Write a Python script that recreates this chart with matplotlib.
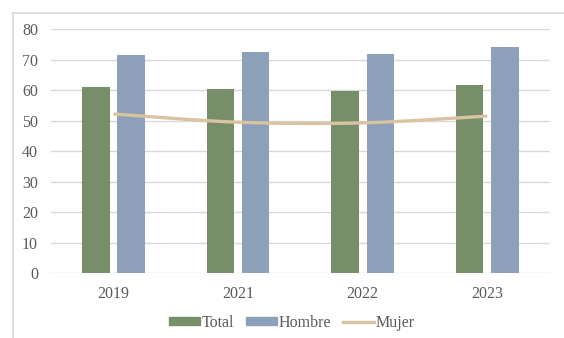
import matplotlib
matplotlib.use("Agg")
import matplotlib.pyplot as plt
import numpy as np
from matplotlib.path import Path
from matplotlib.patches import PathPatch, Patch
from matplotlib.lines import Line2D

categories = ["2019", "2021", "2022", "2023"]
total = [61.2, 60.3, 59.6, 61.8]
hombre = [71.6, 72.5, 71.9, 74.2]
mujer = [52.2, 49.5, 49.3, 51.5]
yticks = [0, 10, 20, 30, 40, 50, 60, 70, 80]

c_total = "#768F69"
c_hombre = "#8DA0B9"
c_mujer = "#D9C3A0"
c_text = "#595959"
c_grid = "#D9D9D9"

plt.rcParams["font.family"] = ["Liberation Serif", "DejaVu Serif"]
FS = 11.5

W, H = 564, 338
fig = plt.figure(figsize=(W / 100, H / 100), dpi=100)
ax = fig.add_axes([51.2 / W, 1 - 273 / H, (549.6 - 51.2) / W, (273 - 29.3) / H])

x = np.arange(len(categories))
bw = 0.22
off = 0.142
ax.bar(x - off, total, bw, color=c_total, zorder=2)
ax.bar(x + off, hombre, bw, color=c_hombre, zorder=2)

# smoothed line (Catmull-Rom -> cubic Bezier) through the Mujer points
pts = np.column_stack([x, mujer]).astype(float)
verts = [tuple(pts[0])]
codes = [Path.MOVETO]
n = len(pts)
for i in range(n - 1):
    p0 = pts[i - 1] if i > 0 else pts[i]
    p1 = pts[i]
    p2 = pts[i + 1]
    p3 = pts[i + 2] if i + 2 < n else pts[i + 1]
    c1 = p1 + (p2 - p0) / 6.0
    c2 = p2 - (p3 - p1) / 6.0
    verts += [tuple(c1), tuple(c2), tuple(p2)]
    codes += [Path.CURVE4] * 3
ax.add_patch(PathPatch(Path(verts, codes), fill=False, edgecolor=c_mujer,
                       lw=2.4, zorder=3, capstyle="butt"))

ax.set_xlim(-0.5, len(categories) - 0.5)
ax.set_ylim(0, 80)
ax.set_yticks(yticks)
ax.set_xticks(x)
ax.set_xticklabels(categories)
ax.grid(axis="y", color=c_grid, lw=1.0, zorder=0)
ax.set_axisbelow(True)
for s in ax.spines.values():
    s.set_visible(False)
ax.tick_params(axis="both", length=0, labelsize=FS, colors=c_text)
ax.tick_params(axis="y", pad=9.5)
ax.tick_params(axis="x", pad=9.5)

handles = [Patch(color=c_total, label="Total"),
           Patch(color=c_hombre, label="Hombre"),
           Line2D([0], [0], color=c_mujer, lw=2.4, label="Mujer")]
fig.legend(handles=handles, loc="center", ncol=3, frameon=False,
           bbox_to_anchor=(292 / W, 1 - 323 / H), fontsize=FS,
           handlelength=1.95, handleheight=0.35, handletextpad=0.13,
           columnspacing=0.7, borderpad=0, labelcolor=c_text)

# outer chart frame (left and top edges visible)
fig.add_artist(Line2D([12.5 / W, 12.5 / W], [0, 1 - 12.5 / H], color=c_grid,
                      lw=1.2, transform=fig.transFigure))
fig.add_artist(Line2D([12.5 / W, 1], [1 - 12.5 / H, 1 - 12.5 / H], color=c_grid,
                      lw=1.2, transform=fig.transFigure))

fig.savefig("out.png", dpi=100)
